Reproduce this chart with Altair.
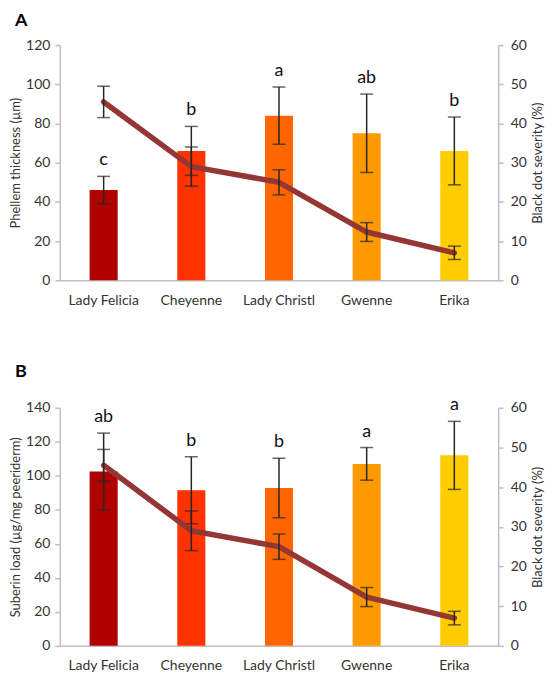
import altair as alt
import pandas as pd

cultivars = ["Lady Felicia", "Cheyenne", "Lady Christl", "Gwenne", "Erika"]
bar_colors = ["#B00000", "#FF3300", "#FF6600", "#FF9900", "#FFCC00"]

phellem_mean = [46, 66, 84, 75, 66]
phellem_err = [7, 12.5, 14.6, 20, 17.3]
phellem_letters = ["c", "b", "a", "ab", "b"]

suberin_mean = [102.5, 91.5, 92.8, 107, 112]
suberin_err = [22.6, 19.7, 17.5, 9.6, 20]
suberin_letters = ["ab", "b", "b", "a", "a"]

severity_mean = [45.5, 29, 25, 12.3, 7]
severity_err = [4, 5, 3.2, 2.4, 1.7]

FONT = "Lato"
LINE_COLOR = "#943634"
ERR_COLOR = "#262626"
AXIS_COLOR = "#BFBFBF"


def panel(label, mean, err, letters, left_title, left_max, height, title_offset):
    df = pd.DataFrame({
        "cultivar": cultivars,
        "mean": mean,
        "lo": [m - e for m, e in zip(mean, err)],
        "hi": [m + e for m, e in zip(mean, err)],
        "letter": letters,
        "sev": severity_mean,
        "sev_lo": [m - e for m, e in zip(severity_mean, severity_err)],
        "sev_hi": [m + e for m, e in zip(severity_mean, severity_err)],
    })
    xaxis = alt.Axis(title=None, ticks=False, labelAngle=0, labelPadding=13,
                     domainColor=AXIS_COLOR, domainWidth=1.5)
    x = alt.X("cultivar:N", sort=cultivars,
              scale=alt.Scale(domain=cultivars, paddingInner=0.68, paddingOuter=0.34),
              axis=xaxis)
    lscale = alt.Scale(domain=[0, left_max], nice=False)
    laxis = alt.Axis(title=left_title, values=list(range(0, left_max + 1, 20)),
                     tickSize=5, labelPadding=5, titlePadding=3)
    rscale = alt.Scale(domain=[0, 60], nice=False)
    raxis = alt.Axis(title="Black dot severity (%)", orient="right",
                     values=list(range(0, 61, 10)), tickSize=5, labelPadding=7,
                     titlePadding=5, titleAngle=270, titleBaseline="top")

    base = alt.Chart(df)
    bars = base.mark_bar().encode(
        x=x,
        y=alt.Y("mean:Q", scale=lscale, axis=laxis),
        color=alt.Color("cultivar:N", scale=alt.Scale(domain=cultivars, range=bar_colors), legend=None),
    )
    err_rule = base.mark_rule(color=ERR_COLOR, strokeWidth=1.5).encode(
        x=x, y=alt.Y("lo:Q", scale=lscale, axis=laxis), y2="hi:Q")
    cap_lo = base.mark_tick(color=ERR_COLOR, thickness=1.5, size=13).encode(
        x=x, y=alt.Y("lo:Q", scale=lscale, axis=laxis))
    cap_hi = base.mark_tick(color=ERR_COLOR, thickness=1.5, size=13).encode(
        x=x, y=alt.Y("hi:Q", scale=lscale, axis=laxis))
    text = base.mark_text(baseline="bottom", dy=-7, fontSize=18, font=FONT, color="#111111").encode(
        x=x, y=alt.Y("hi:Q", scale=lscale, axis=laxis), text="letter:N")
    left = alt.layer(bars, err_rule, cap_lo, cap_hi, text)

    line = base.mark_line(color=LINE_COLOR, strokeWidth=5.5, strokeCap="round", strokeJoin="round").encode(
        x=x, y=alt.Y("sev:Q", scale=rscale, axis=raxis))
    s_rule = base.mark_rule(color=ERR_COLOR, strokeWidth=1.5).encode(
        x=x, y=alt.Y("sev_lo:Q", scale=rscale, axis=raxis), y2="sev_hi:Q")
    s_lo = base.mark_tick(color=ERR_COLOR, thickness=1.5, size=13).encode(
        x=x, y=alt.Y("sev_lo:Q", scale=rscale, axis=raxis))
    s_hi = base.mark_tick(color=ERR_COLOR, thickness=1.5, size=13).encode(
        x=x, y=alt.Y("sev_hi:Q", scale=rscale, axis=raxis))
    right = alt.layer(line, s_rule, s_lo, s_hi)

    return alt.layer(left, right).resolve_scale(y="independent").properties(
        width=440, height=height,
        title=alt.TitleParams(label, anchor="start", frame="group", dx=-45, fontSize=18, font=FONT,
                              fontWeight="bold", color="#000000", offset=title_offset),
    )


pA = panel("A", phellem_mean, phellem_err, phellem_letters,
           "Phellem thickness (µm)", 120, 236, 8)
pB = panel("B", suberin_mean, suberin_err, suberin_letters,
           "Suberin load (µg/mg peeriderm)", 140, 239, 16)

chart = alt.vconcat(pA, pB, spacing=55).properties(
    padding={"left": 1, "top": 3, "right": 0, "bottom": 0}
).configure_view(stroke=None).configure_axis(
    grid=False, labelFont=FONT, titleFont=FONT, labelFontSize=14, titleFontSize=13,
    labelColor="#333333", titleColor="#333333", titleFontWeight="normal",
    domainColor=AXIS_COLOR, tickColor=AXIS_COLOR, domainWidth=1.5, tickWidth=1.5,
)

chart.save("out.html", embed_options={"renderer": "svg", "actions": False})
